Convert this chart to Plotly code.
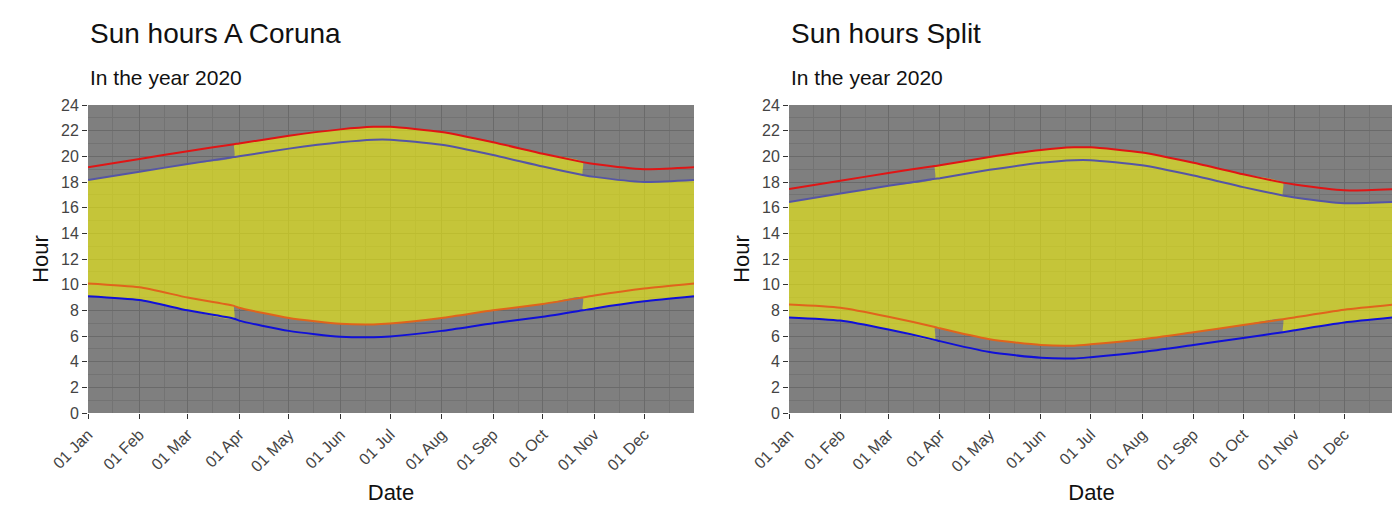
import plotly.graph_objects as go

# key dates (DST starts 29 Mar, ends 25 Oct 2020)
dates = ["2020-01-01", "2020-02-01", "2020-03-01", "2020-03-29", "2020-04-01", "2020-05-01",
         "2020-06-01", "2020-06-21", "2020-07-01", "2020-08-01", "2020-09-01", "2020-10-01",
         "2020-10-25", "2020-11-01", "2020-12-01", "2020-12-31"]
dst_start, dst_end = 3, 12  # indices into dates

cities = ["A Coruna", "Split"]
sunrise_std = {
    "A Coruna": [9.1, 8.8, 8.0, 7.35, 7.2, 6.4, 5.95, 5.9, 5.97, 6.4, 7.0, 7.5, 8.0, 8.15, 8.7, 9.1],
    "Split": [7.45, 7.2, 6.5, 5.7, 5.6, 4.75, 4.3, 4.25, 4.35, 4.75, 5.3, 5.85, 6.3, 6.45, 7.05, 7.45],
}
sunrise_dst = {
    "A Coruna": [10.1, 9.8, 9.0, 8.35, 8.2, 7.4, 6.95, 6.9, 6.97, 7.4, 8.0, 8.5, 9.0, 9.15, 9.7, 10.1],
    "Split": [8.45, 8.2, 7.5, 6.7, 6.6, 5.75, 5.3, 5.25, 5.35, 5.75, 6.3, 6.85, 7.3, 7.45, 8.05, 8.45],
}
sunset_std = {
    "A Coruna": [18.15, 18.8, 19.4, 19.95, 20.0, 20.6, 21.1, 21.3, 21.3, 20.9, 20.1, 19.2, 18.55, 18.4, 18.0, 18.15],
    "Split": [16.45, 17.1, 17.7, 18.25, 18.3, 18.95, 19.5, 19.7, 19.7, 19.3, 18.5, 17.6, 16.95, 16.8, 16.35, 16.45],
}
sunset_dst = {
    "A Coruna": [19.15, 19.8, 20.4, 20.95, 21.0, 21.6, 22.1, 22.3, 22.3, 21.9, 21.1, 20.2, 19.55, 19.4, 19.0, 19.15],
    "Split": [17.45, 18.1, 18.7, 19.25, 19.3, 19.95, 20.5, 20.7, 20.7, 20.3, 19.5, 18.6, 17.95, 17.8, 17.35, 17.45],
}
month_ticks = ["2020-%02d-01" % m for m in range(1, 13)]
mid_ticks = ["2020-%02d-16" % m for m in range(1, 13)]


def clock(std, dst):
    # piecewise: standard time in winter, summer time in between, with the jumps
    x = dates[:dst_start + 1] + dates[dst_start:dst_end + 1] + dates[dst_end:]
    y = std[:dst_start + 1] + dst[dst_start:dst_end + 1] + std[dst_end:]
    return x, y


fig = go.Figure()
# plot area: x 80..1386, y 97..405 px
domains = [[0, 606 / 1306], [701 / 1306, 1]]
line_styles = [(sunrise_std, "#1010d8"), (sunrise_dst, "#e0641c"),
               (sunset_std, "#5555a5"), (sunset_dst, "#e01515")]

for i, city in enumerate(cities):
    xa = "x" if i == 0 else "x2"
    ya = "y" if i == 0 else "y2"
    lx, ly = clock(sunrise_std[city], sunrise_dst[city])
    ux, uy = clock(sunset_std[city], sunset_dst[city])
    fig.add_trace(go.Scatter(x=lx, y=ly, mode="lines", line=dict(width=0, shape="spline", smoothing=0.6),
                             xaxis=xa, yaxis=ya, hoverinfo="skip"))
    fig.add_trace(go.Scatter(x=ux, y=uy, mode="lines", line=dict(width=0, shape="spline", smoothing=0.6),
                             fill="tonexty", fillcolor="rgba(255,255,0,0.55)",
                             xaxis=xa, yaxis=ya, hoverinfo="skip"))
    for series, col in line_styles:
        fig.add_trace(go.Scatter(x=dates, y=series[city], mode="lines",
                                 line=dict(color=col, width=2, shape="spline", smoothing=0.6),
                                 xaxis=xa, yaxis=ya))

    ax = dict(domain=domains[i], range=["2020-01-01", "2020-12-31"], tickvals=month_ticks,
              tickformat="%d %b", tickangle=-45, ticks="outside", ticklen=5, tickcolor="#333",
              showgrid=True, gridcolor="#6a6a6a", gridwidth=1, zeroline=False, automargin=False,
              tickfont=dict(size=16, color="#444"),
              minor=dict(tickvals=mid_ticks, showgrid=True, gridcolor="#737373", gridwidth=1, ticks=""),
              title=dict(text="Date", font=dict(size=22, color="#111"), standoff=10))
    ay = dict(domain=[0, 1], range=[0, 24], dtick=2, ticks="outside", automargin=False,
              ticklen=5, tickcolor="#333", showgrid=True, gridcolor="#6a6a6a", zeroline=False,
              tickfont=dict(size=16, color="#444"),
              minor=dict(dtick=1, showgrid=True, gridcolor="#737373", ticks=""),
              title=dict(text="Hour", font=dict(size=22, color="#111"), standoff=6),
              anchor=xa)
    ax["anchor"] = ya
    if i == 0:
        fig.update_layout(xaxis=ax, yaxis=ay)
    else:
        fig.update_layout(xaxis2=ax, yaxis2=ay)

    x0 = domains[i][0]
    fig.add_annotation(text="Sun hours " + city, x=x0, y=379 / 308, xref="paper", yref="paper",
                       xanchor="left", yanchor="middle", showarrow=False,
                       font=dict(size=28, color="#111"))
    fig.add_annotation(text="In the year 2020", x=x0, y=336 / 308, xref="paper", yref="paper",
                       xanchor="left", yanchor="middle", showarrow=False,
                       font=dict(size=21, color="#111"))

fig.update_layout(width=1400, height=525, margin=dict(l=80, r=14, t=97, b=120),
                  plot_bgcolor="#7f7f7f", paper_bgcolor="white", showlegend=False,
                  font=dict(family="Liberation Sans, Arial, sans-serif"))
fig.write_html("out.html")
